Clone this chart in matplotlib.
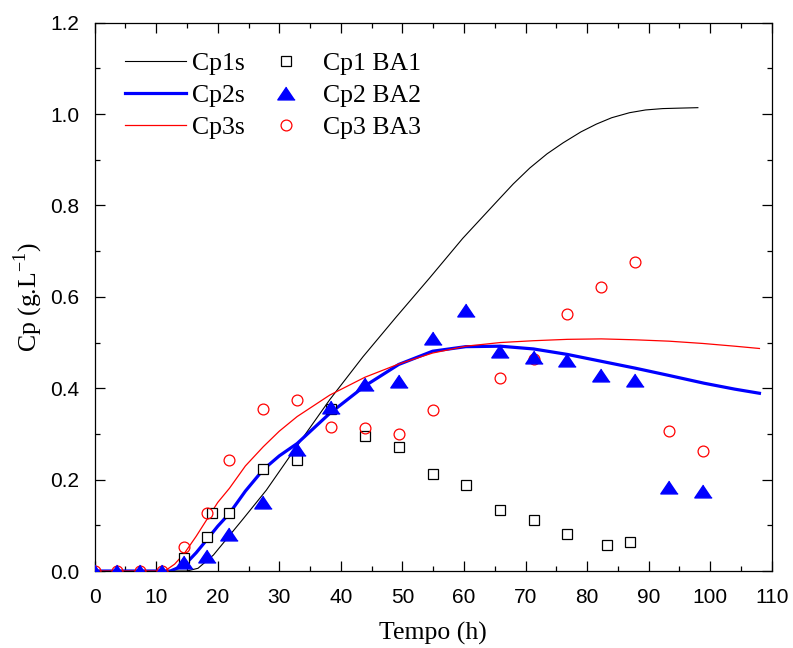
import matplotlib
matplotlib.use("Agg")
import matplotlib.pyplot as plt
from matplotlib.ticker import MultipleLocator, FormatStrFormatter

plt.rcParams['mathtext.fontset'] = 'custom'
plt.rcParams['mathtext.rm'] = 'Liberation Serif'

# Experimental data
t_exp = [0, 3.7, 7.3, 10.9, 14.6, 18.2, 21.9, 27.4, 32.9, 38.4, 43.9, 49.4,
         54.9, 60.3, 65.9, 71.3, 76.8, 82.3, 87.8, 93.3, 98.8]
t_ba1 = [14.5, 18.2, 19.1, 21.9, 27.4, 32.9, 38.4, 43.9,
         49.4, 54.9, 60.3, 65.9, 71.3, 76.8, 83.3, 87.0]
cp1_ba1 = [0.028, 0.074, 0.126, 0.126, 0.224, 0.244, 0.355, 0.296,
           0.271, 0.213, 0.189, 0.133, 0.111, 0.082, 0.058, 0.064]
cp2_ba2 = [0, 0, 0, 0, 0.020, 0.033, 0.081, 0.150, 0.267, 0.358, 0.410, 0.416,
           0.509, 0.571, 0.481, 0.468, 0.462, 0.429, 0.419, 0.183, 0.176]
t_ba3 = [0, 3.7, 7.3, 10.9, 14.6, 18.2, 21.9, 27.4, 32.9, 38.4, 43.9, 49.4,
         54.9, 65.9, 71.3, 76.8, 82.3, 87.8, 93.3, 98.8]
cp3_ba3 = [0, 0, 0, 0, 0.053, 0.128, 0.243, 0.354, 0.375, 0.316, 0.314, 0.300,
           0.352, 0.423, 0.465, 0.562, 0.621, 0.677, 0.307, 0.263]

# Simulated curves
t_s1 = [0, 10, 14, 15, 16.8, 19.3, 20.4, 24.0, 27.9, 32.8, 38.2, 43.6, 49.0,
        54.4, 59.8, 65.3, 68.0, 70.7, 73.5, 76.1, 79.0, 81.5, 84.0, 86.9,
        89.5, 92.3, 95.0, 98.0]
cp1s = [0, 0, 0, 0, 0.006, 0.035, 0.053, 0.112, 0.177, 0.272, 0.375, 0.469,
        0.556, 0.641, 0.728, 0.808, 0.847, 0.882, 0.913, 0.937, 0.961, 0.978,
        0.992, 1.003, 1.009, 1.012, 1.013, 1.014]
t_s2 = [0, 10, 12.3, 14.6, 16.5, 18.2, 20.0, 21.9, 24.5, 27.4, 30.0, 32.9,
        38.2, 43.9, 49.4, 54.9, 60.3, 65.9, 71.3, 76.8, 82.3, 87.8, 93.3,
        99.0, 104.0, 108.0]
cp2s = [0, 0, 0, 0.013, 0.040, 0.068, 0.098, 0.126, 0.175, 0.222, 0.252, 0.279,
        0.345, 0.405, 0.452, 0.481, 0.491, 0.492, 0.486, 0.474, 0.459, 0.444,
        0.428, 0.411, 0.398, 0.389]
t_s3 = [0, 10, 11.4, 13.0, 14.6, 16.5, 18.2, 20.0, 21.9, 24.5, 27.4, 30.0,
        32.9, 38.2, 43.9, 49.4, 54.9, 60.3, 65.9, 71.3, 76.8, 82.3, 87.8,
        93.3, 98.8, 104.0, 108.0]
cp3s = [0, 0, 0, 0.015, 0.039, 0.076, 0.112, 0.150, 0.181, 0.230, 0.272, 0.306,
        0.338, 0.385, 0.424, 0.453, 0.477, 0.492, 0.500, 0.504, 0.507, 0.508,
        0.506, 0.503, 0.498, 0.492, 0.487]

fig = plt.figure(figsize=(7.93, 6.48), dpi=100)
ax = fig.add_axes([0.1193, 0.1188, 0.8539, 0.8462])

l1, = ax.plot(t_s1, cp1s, color='black', lw=0.8, label='Cp1s', zorder=2)
l2, = ax.plot(t_s2, cp2s, color='#0000ff', lw=2.3, label='Cp2s', zorder=2)
l3, = ax.plot(t_s3, cp3s, color='#ff0000', lw=0.9, label='Cp3s', zorder=2)

tri = [(0, 0.74), (-1, -0.74), (1, -0.74)]
m1, = ax.plot(t_ba1, cp1_ba1, ls='none', marker='s', ms=7.5, mfc='white',
              mec='black', mew=0.9, label='Cp1 BA1', zorder=3)
m3, = ax.plot(t_ba3, cp3_ba3, ls='none', marker='o', ms=7.8, mfc='none',
              mec='#ff0000', mew=0.9, label='Cp3 BA3', zorder=3)
m2, = ax.plot(t_exp, cp2_ba2, ls='none', marker=tri, ms=12.5, color='#0000ff',
              mec='#0000ff', label='Cp2 BA2', zorder=4)

ax.set_xlim(0, 110)
ax.set_ylim(0, 1.2)
ax.xaxis.set_major_locator(MultipleLocator(10))
ax.xaxis.set_minor_locator(MultipleLocator(5))
ax.yaxis.set_major_locator(MultipleLocator(0.2))
ax.yaxis.set_minor_locator(MultipleLocator(0.1))
ax.yaxis.set_major_formatter(FormatStrFormatter('%.1f'))

ax.tick_params(which='both', direction='in', top=True, right=True,
               labelsize=15, width=0.9)
ax.tick_params(which='major', length=7.5)
ax.tick_params(which='minor', length=3.7)
ax.tick_params(axis='x', which='major', pad=12)
ax.tick_params(axis='y', which='major', pad=11)
for lab in ax.get_xticklabels() + ax.get_yticklabels():
    lab.set_fontfamily('Liberation Sans')
for s in ax.spines.values():
    s.set_linewidth(0.9)

ax.set_xlabel('Tempo (h)', fontsize=18.5, family='Liberation Serif', labelpad=11)
ax.set_ylabel(r'Cp (g.L$^{\mathregular{-1}}$)', fontsize=18.5,
              family='Liberation Serif', labelpad=4)

leg = ax.legend(handles=[l1, l2, l3, m1, m2, m3], ncol=2, frameon=False,
                loc='upper left', bbox_to_anchor=(0.045, 0.946),
                borderaxespad=0, borderpad=0, handlelength=2.37,
                handletextpad=0.25, columnspacing=0.4, labelspacing=0.35,
                prop={'family': 'Liberation Serif', 'size': 18.5})

fig.savefig('out.png', dpi=100)
